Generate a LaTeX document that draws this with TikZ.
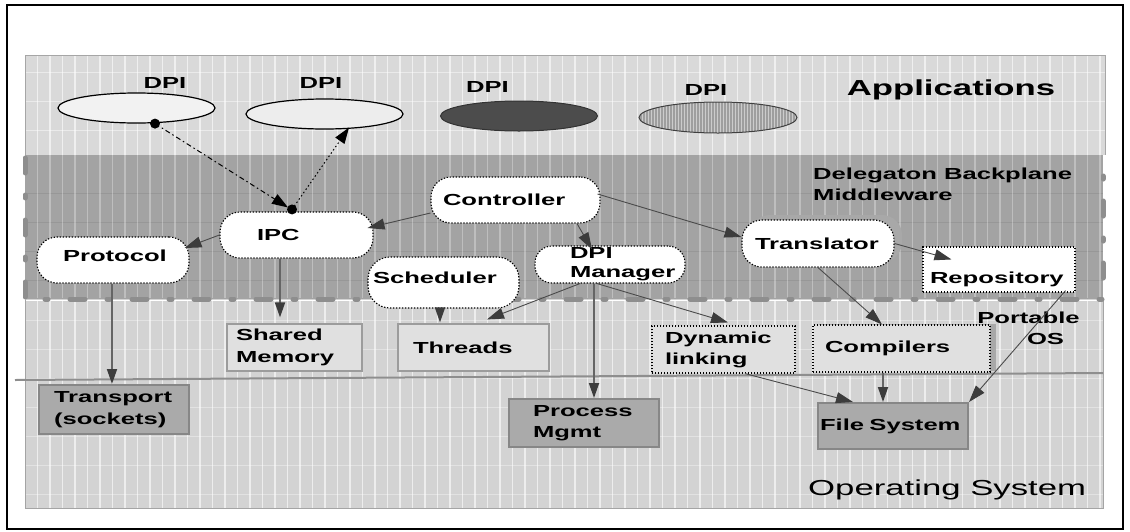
\documentclass[tikz,border=0pt]{standalone}
\usepackage{fontspec}
\setmainfont{Liberation Sans}[FakeStretch=1.6]
\usetikzlibrary{arrows.meta,patterns,shapes.geometric}

\definecolor{appfill}{HTML}{D9D9D9}
\definecolor{midfill}{HTML}{A3A3A3}
\definecolor{lowfill}{HTML}{D3D3D3}
\definecolor{boxlight}{HTML}{E0E0E0}
\definecolor{boxedge}{HTML}{9C9C9C}
\definecolor{boxdark}{HTML}{AAAAAA}
\definecolor{boxdarkedge}{HTML}{878787}
\definecolor{wire}{HTML}{4A4A4A}
\definecolor{tipgray}{HTML}{3C3C3C}
\definecolor{rim}{HTML}{8E8E8E}
\definecolor{shade}{HTML}{A8A8A8}

\newcommand\lblfont{\fontsize{16}{21.5}\selectfont\bfseries}
\newcommand\biglbl{\fontsize{21.7}{26}\selectfont\bfseries}
\newcommand\oslbl{\fontsize{21.7}{26}\selectfont}
\newcommand\setlow[2]{\raisebox{#1}[0pt][0pt]{#2}}

\begin{document}
\begin{tikzpicture}[x=1pt,y=-1pt,
  dotline/.style={draw=black,line width=1.1pt,dash pattern=on 1.4pt off 1.6pt},
  mwnode/.style={dotline,fill=white,inner ysep=0pt,align=left,font=\lblfont},
  litebox/.style={draw=boxedge,line width=1.2pt,fill=boxlight,inner ysep=0pt,align=left,font=\lblfont},
  dotbox/.style={dotline,fill=boxlight,inner ysep=0pt,align=left,font=\lblfont},
  osbox/.style={draw=boxdarkedge,line width=2pt,fill=boxdark,inner ysep=0pt,align=left,font=\lblfont},
  dpi/.style={ellipse,minimum width=157pt,minimum height=30pt,inner sep=0pt},
  dpilbl/.style={anchor=base,font=\lblfont,inner sep=0pt},
  flow/.style={draw=wire,line width=0.9pt,-{Triangle[length=17pt,width=11pt,color=tipgray]}},
  heavy/.style={draw=wire!85!white,line width=1.8pt,-{Triangle[length=15pt,width=10pt,color=tipgray]}},
  dpilink/.style={draw=black,line width=1pt,-{Triangle[length=16pt,width=11pt]}}]

\useasboundingbox (0,0) rectangle (1130,531);

% ---- middleware band and the two operating-system bands
\fill[midfill] (25,155) rectangle (1103,299);
\fill[lowfill] (25,299) rectangle (1103,508);
\foreach \y in {193,222,251,280}
  \draw[black,opacity=.07,line width=1pt] (25,\y) -- (1103,\y);
\foreach \y in {320,349,378,407,436,465,494}
  \draw[white,opacity=.35,line width=1pt] (25,\y) -- (1103,\y);
\foreach \x in {37.5,50,...,1100} {
  \draw[white,opacity=.3,line width=1.3pt] (\x,155) -- (\x,298);
  \draw[white,opacity=.6,line width=1.3pt] (\x,301) -- (\x,508);
}
\draw[white,line width=1pt] (25,300.5) -- (1103,300.5);
\draw[rim!80,line width=1pt] (25,300) -- (25,508) -- (1103,508) -- (1103,300);

% dash-dot rim of the middleware band
\draw[rim,line width=5pt,line cap=round,dash pattern=on 15pt off 22pt on 3pt off 22pt]
  (25,158) -- (25,299) -- (1103,299) -- (1103,158);

% ---- applications band
\fill[appfill] (25,55) rectangle (1105,155);
\foreach \y in {72,101,130}
  \draw[white,opacity=.45,line width=1pt] (25,\y) -- (1105,\y);
\foreach \x in {37.5,50,...,1100}
  \draw[white,opacity=.6,line width=1.3pt] (\x,55) -- (\x,155);
\draw[gray!70,line width=1pt] (25,155) -- (25,55) -- (1105,55) -- (1105,155);

% ---- boundary between portable OS and operating system
\draw[rim,line width=2pt] (15,380) -- (1103,373);

% ---- outer frame
\draw[black,line width=2pt] (7,5) rectangle (1123,529);

% ---- DPI instances
\node[dpi,draw=black,line width=1.2pt,fill=white!95!black] (e1) at (136.5,108) {};
\node[dpi,draw=black,line width=1.2pt,fill=white!93!black] (e2) at (324.5,114) {};
\node[dpi,draw=black!80,line width=1pt,fill=black!70] (e3) at (519,116) {};
\node[dpi,draw=black!75,line width=1pt,preaction={fill=black!38},
      pattern=vertical lines,pattern color=white!80!black,
      minimum width=158pt,minimum height=31pt] (e4) at (718,117.5) {};
\node[dpilbl] (d1) at (165,88) {DPI};
\node[dpilbl] (d2) at (321,88.3) {DPI};
\node[dpilbl] (d3) at (487.5,92) {DPI};
\node[dpilbl] (d4) at (706,95) {DPI};

% ---- band titles
\node[anchor=base,font=\biglbl,inner sep=0pt] (applbl) at (951,95) {Applications};
\node[anchor=north west,align=left,font=\lblfont,inner sep=0pt] (mwlbl) at (813,167.5)
  {Delegaton Backplane\\Middleware};
\node[anchor=north,align=center,font=\lblfont,inner sep=0pt] (poslbl) at (1028.5,311.5)
  {Portable\\\hspace*{34pt}OS};
\node[anchor=base west,font=\oslbl,inner sep=0pt] (oslbl) at (808,495) {Operating System};

% ---- middleware components
\node[mwnode,rounded corners=20pt,minimum height=46pt,inner xsep=37pt,text width=79pt]
  (ipc) at (296.5,235) {IPC};
\node[mwnode,rounded corners=20pt,minimum height=46pt,inner xsep=26pt,text width=100pt]
  (protocol) at (113,260) {\setlow{-1.75pt}{Protocol}};
\node[mwnode,rounded corners=20pt,minimum height=46pt,inner xsep=12pt,text width=145pt]
  (controller) at (515.5,200) {Controller};
\node[mwnode,rounded corners=20pt,minimum height=47pt,inner xsep=13pt,text width=126pt,
      preaction={fill=shade,transform canvas={shift={(8pt,5pt)}}}]
  (translator) at (818,243.5) {Translator};
\node[mwnode,rounded corners=22pt,minimum height=51pt,inner xsep=5pt,text width=141pt]
  (scheduler) at (443.5,282.5) {\setlow{-1.25pt}{Scheduler}};
\node[mwnode,rounded corners=17pt,minimum height=37pt,inner xsep=35pt,text width=80pt,
      font=\lblfont\fontsize{16}{19}\selectfont]
  (dpim) at (610,264.5) {DPI\\Manager};
\node[mwnode,minimum height=45pt,inner xsep=7pt,text width=138pt]
  (repo) at (999,269.5) {\setlow{-13.5pt}{Repository}};

% ---- portable OS services
\node[litebox,minimum height=47pt,inner xsep=9pt,text width=117pt]
  (shm) at (294.5,347.5) {Shared\\Memory};
\node[litebox,minimum height=47pt,inner xsep=15pt,text width=121pt]
  (thr) at (473.5,347.5) {Threads};
\node[dotbox,minimum height=47pt,inner xsep=13pt,text width=117pt,
      font=\lblfont\fontsize{16}{21}\selectfont]
  (dyn) at (723.5,349.5) {Dynamic\\linking};
\node[dotbox,minimum height=47pt,inner xsep=12pt,text width=153pt,
      preaction={fill=shade,transform canvas={shift={(6pt,1pt)}}}]
  (comp) at (901.5,348.5) {Compilers};

% ---- operating system services
\node[osbox,minimum height=49pt,inner xsep=15pt,text width=120pt]
  (tr) at (114,409.5) {Transport\\(sockets)};
\node[osbox,minimum height=48pt,inner xsep=24pt,text width=102pt]
  (pm) at (584,423) {Process\\Mgmt};
\node[osbox,minimum height=46pt,inner xsep=2pt,text width=146pt]
  (fs) at (893,426) {File System};

% ---- dependencies
\draw[flow] ([yshift=-13pt]controller.west) -- ([xshift=-6pt,yshift=7pt]ipc.east);
\draw[flow] (ipc.west) -- ([xshift=-5pt,yshift=12pt]protocol.east);
\draw[flow] ([xshift=61.5pt]controller.south) -- ([xshift=-18pt,yshift=-4pt]dpim.north);
\draw[flow] ([xshift=-3pt,yshift=6pt]controller.east) -- ([yshift=6.5pt]translator.west);
\draw[flow] (translator.east) -- ([xshift=29pt,yshift=-13pt]repo.north west);
\draw[flow] (translator.south) -- ([xshift=-19.5pt]comp.north);
\draw[heavy] ([xshift=-3.5pt]scheduler.south) -- ([xshift=-33.5pt,yshift=1pt]thr.north);
\draw[flow] ([xshift=-30pt]dpim.south) -- ([xshift=13.5pt,yshift=4pt]thr.north);
\draw[flow] ([xshift=-13pt]dpim.south) -- ([xshift=4.5pt,yshift=3pt]dyn.north);
\draw[heavy] ([xshift=-16pt]dpim.south) -- ([xshift=10pt]pm.north);
\draw[heavy] ([xshift=-16.5pt]ipc.south) -- ([xshift=-14.5pt,yshift=6pt]shm.north);
\draw[heavy] ([xshift=-1pt]protocol.south) -- ([xshift=-2pt]tr.north);
\draw[flow] ([xshift=21.5pt]dyn.south) -- ([xshift=-40pt]fs.north);
\draw[heavy] ([xshift=-18.5pt]comp.south) -- ([xshift=-10pt]fs.north);
\draw[flow] ([xshift=-10pt,yshift=2pt]repo.south east) -- (fs.north east);

% ---- a DPI talking to another DPI through the IPC layer
\fill (e1.south) ++(18.5,0) circle (5pt);
\draw[dpilink,dash pattern=on 5pt off 3pt on 1.5pt off 3pt]
  ([xshift=18.5pt]e1.south) -- ([xshift=-8.5pt,yshift=4pt]ipc.north);
\fill ([xshift=-4.5pt,yshift=2pt]ipc.north) circle (5pt);
\draw[dpilink,dash pattern=on 1.5pt off 2.5pt]
  ([xshift=-4.5pt,yshift=2pt]ipc.north) -- ([xshift=24.5pt,yshift=2pt]e2.south);

\end{tikzpicture}
\end{document}
